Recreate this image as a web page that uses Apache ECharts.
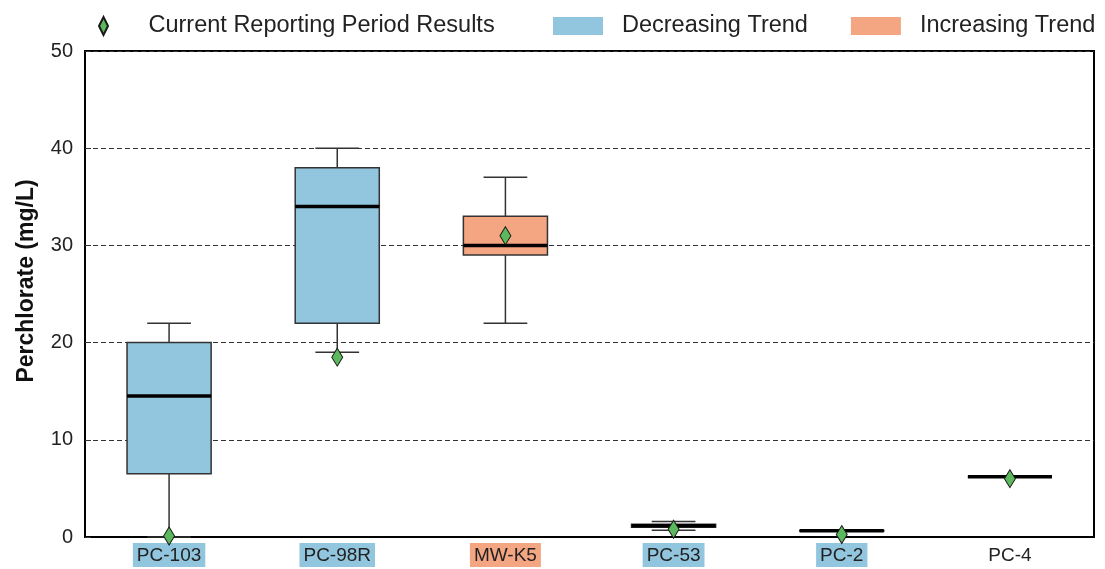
<!DOCTYPE html>
<html>
<head>
<meta charset="utf-8">
<script src="https://cdn.jsdelivr.net/npm/echarts@6/dist/echarts.min.js"></script>
<style>
  html, body { margin: 0; padding: 0; background: #fff; }
  #main { width: 1105px; height: 569px; }
</style>
</head>
<body>
<div id="main"></div>
<script>
// wells and their trend class
var wells = ['PC-103', 'PC-98R', 'MW-K5', 'PC-53', 'PC-2', 'PC-4'];
var trends = ['dec', 'dec', 'inc', 'dec', 'dec', 'none'];
// box statistics (mg/L)
var mins    = [0,    19,   22,  0.7,  0.6,  6.2];
var q1s     = [6.5,  22,   29,  1.0,  0.62, 6.2];
var medians = [14.5, 34,   30,  1.15, 0.65, 6.2];
var q3s     = [20,   38,   33,  1.3,  0.68, 6.2];
var maxs    = [22,   40,   37,  1.6,  0.7,  6.2];
// current reporting period results
var current = [0.1, 18.5, 31, 0.8, 0.25, 6.0];

var blue = '#92c5de', orange = '#f4a582', green = '#5cb85c';
var font = 'Liberation Sans, Arial, sans-serif';

function boxData(kind) {
  var out = [];
  for (var i = 0; i < wells.length; i++) {
    if (trends[i] == kind) out.push([i, mins[i], q1s[i], medians[i], q3s[i], maxs[i]]);
  }
  return out;
}

function renderBox(params, api) {
  var x = api.value(0);
  var pMin = api.coord([x, api.value(1)]);
  var pQ1 = api.coord([x, api.value(2)]);
  var pMed = api.coord([x, api.value(3)]);
  var pQ3 = api.coord([x, api.value(4)]);
  var pMax = api.coord([x, api.value(5)]);
  var band = api.size([1, 0])[0];
  var hw = band * 0.25, cw = band * 0.13;
  var cx = pMed[0];
  var ls = { stroke: '#333', lineWidth: 1.5 };
  return {
    type: 'group',
    children: [
      { type: 'line', shape: { x1: cx, y1: pMin[1], x2: cx, y2: pQ1[1] }, style: ls },
      { type: 'line', shape: { x1: cx, y1: pQ3[1], x2: cx, y2: pMax[1] }, style: ls },
      { type: 'line', shape: { x1: cx - cw, y1: pMin[1], x2: cx + cw, y2: pMin[1] }, style: ls },
      { type: 'line', shape: { x1: cx - cw, y1: pMax[1], x2: cx + cw, y2: pMax[1] }, style: ls },
      { type: 'rect', shape: { x: cx - hw, y: pQ3[1], width: hw * 2, height: pQ1[1] - pQ3[1] },
        style: { fill: api.visual('color'), stroke: '#333', lineWidth: 1.5 } },
      { type: 'line', shape: { x1: cx - hw, y1: pMed[1], x2: cx + hw, y2: pMed[1] },
        style: { stroke: '#000', lineWidth: 3.5 } }
    ]
  };
}

var labelColors = { dec: 'd', inc: 'i', none: 'n' };

var myChart = echarts.init(document.getElementById('main'));
var option = {
  animation: false,
  textStyle: { fontFamily: font },
  legend: [{
    left: 93, top: 9,
    itemWidth: 20, itemHeight: 18,
    textStyle: { fontSize: 23.5, color: '#222', padding: [0, 0, 0, 30] },
    data: [{ name: 'Current Reporting Period Results', icon: 'path://M4,0L8,8L4,16L0,8Z' }]
  }, {
    left: 548, top: 9,
    itemWidth: 50, itemHeight: 18, itemGap: 43,
    textStyle: { fontSize: 23.5, color: '#222', padding: [0, 0, 0, 14] },
    data: [{ name: 'Decreasing Trend', icon: 'rect' }, { name: 'Increasing Trend', icon: 'rect' }]
  }],
  grid: {
    left: 85, right: 11, top: 51, bottom: 32,
    show: true, borderColor: '#000', borderWidth: 2
  },
  xAxis: {
    type: 'category',
    data: wells,
    axisLine: { lineStyle: { color: '#000', width: 2 } },
    axisTick: { inside: true, alignWithLabel: true, length: 10, lineStyle: { color: '#333', width: 1.5 } },
    axisLabel: {
      margin: 6,
      formatter: function (v, i) { return '{' + labelColors[trends[i]] + '|' + v + '}'; },
      rich: {
        d: { fontSize: 19, color: '#222', backgroundColor: blue, padding: [3, 4, 2, 4], fontFamily: font },
        i: { fontSize: 19, color: '#222', backgroundColor: orange, padding: [3, 4, 2, 4], fontFamily: font },
        n: { fontSize: 19, color: '#222', padding: [3, 4, 2, 4], fontFamily: font }
      }
    }
  },
  yAxis: {
    type: 'value', min: 0, max: 50, interval: 10,
    name: 'Perchlorate (mg/L)', nameLocation: 'middle', nameGap: 47,
    nameTextStyle: { fontSize: 23, fontWeight: 'bold', color: '#111', padding: [0, 0, 0, 26] },
    axisLine: { show: true, lineStyle: { color: '#000', width: 2 } },
    axisTick: { show: true, inside: true, length: 6, lineStyle: { color: '#333' } },
    axisLabel: { fontSize: 20, color: '#222', margin: 12 },
    splitLine: { lineStyle: { color: '#333', type: [5, 3], width: 1 } }
  },
  series: [{
    name: 'Decreasing Trend', type: 'custom', renderItem: renderBox,
    itemStyle: { color: blue }, encode: { x: 0, y: [1, 2, 3, 4, 5] },
    data: boxData('dec'), z: 2
  }, {
    name: 'Increasing Trend', type: 'custom', renderItem: renderBox,
    itemStyle: { color: orange }, encode: { x: 0, y: [1, 2, 3, 4, 5] },
    data: boxData('inc'), z: 2
  }, {
    name: 'No Trend', type: 'custom', renderItem: renderBox,
    itemStyle: { color: '#fff' }, encode: { x: 0, y: [1, 2, 3, 4, 5] },
    data: boxData('none'), z: 2
  }, {
    name: 'Current Reporting Period Results', type: 'scatter',
    symbol: 'diamond', symbolSize: [11, 18],
    itemStyle: { color: green, borderColor: '#1a1a1a', borderWidth: 1, opacity: 1 },
    data: current.map(function (v, i) { return [i, v]; }), z: 5
  }]
};
myChart.setOption(option);
</script>
</body>
</html>
